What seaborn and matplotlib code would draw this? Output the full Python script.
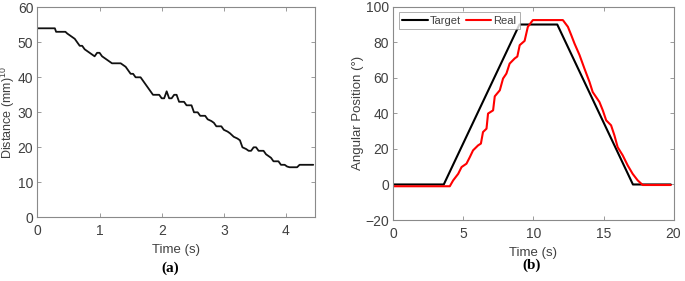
import numpy as np
import pandas as pd
import matplotlib
matplotlib.use("Agg")
import matplotlib.pyplot as plt
import seaborn as sns

# --- panel (a): distance vs time ---
dist_time = [0.00, 0.28, 0.30, 0.45, 0.48, 0.52, 0.56, 0.60, 0.64, 0.68, 0.72, 0.76,
             0.80, 0.84, 0.88, 0.92, 0.96, 1.00, 1.04, 1.08, 1.12, 1.16, 1.20, 1.34,
             1.38, 1.42, 1.46, 1.50, 1.54, 1.58, 1.66, 1.70, 1.74, 1.78, 1.82, 1.86,
             1.96, 2.00, 2.04, 2.08, 2.12, 2.16, 2.20, 2.24, 2.28, 2.36, 2.40, 2.48,
             2.52, 2.58, 2.62, 2.70, 2.74, 2.80, 2.84, 2.88, 2.96, 3.00, 3.06, 3.10,
             3.16, 3.22, 3.26, 3.30, 3.36, 3.40, 3.44, 3.48, 3.52, 3.56, 3.64, 3.68,
             3.72, 3.76, 3.80, 3.88, 3.92, 3.98, 4.02, 4.06, 4.18, 4.22, 4.44]
dist_mm = [54, 54, 53, 53, 52.5, 52, 51.5, 51, 50, 49, 49, 48,
           47.5, 47, 46.5, 46, 47, 47, 46, 45.5, 45, 44.5, 44, 44,
           43.5, 43, 42, 41, 41, 40, 40, 39, 38, 37, 36, 35,
           35, 34, 34, 36, 34, 34, 35, 35, 33, 33, 32, 32,
           30, 30, 29, 29, 28, 27.5, 27, 26, 26, 25, 24.5, 24,
           23, 22.5, 22, 20, 19.5, 19, 19, 20, 20, 19, 19, 18,
           17.5, 17, 16, 16, 15, 15, 14.5, 14.3, 14.3, 15, 15]

# --- panel (b): angular position ---
target_time = [0.0, 3.6, 9.0, 11.7, 17.1, 19.8]
target_deg = [0, 0, 90, 90, 0, 0]

real_time = [0.0, 3.7, 4.03, 4.27, 4.63, 4.87, 5.22, 5.46, 5.69, 6.05, 6.25, 6.40,
             6.65, 6.76, 7.12, 7.24, 7.60, 7.83, 8.07, 8.30, 8.66, 8.85, 9.02, 9.37,
             9.60, 9.96, 12.10, 12.46, 12.70, 12.93, 13.29, 13.64, 14.00, 14.23,
             14.71, 14.95, 15.19, 15.54, 15.78, 16.01, 16.37, 16.73, 17.08, 17.44,
             17.80, 19.80]
real_deg = [-1, -1, -1, 2.3, 6, 9.8, 11.7, 15.4, 19.2, 22, 23, 29.5,
            31.4, 39.9, 41.7, 49.6, 53, 59.6, 62.4, 68, 70.9, 72, 78.4, 80.8,
            88.7, 92.5, 92.5, 88.7, 84, 79.3, 72.8, 65.2, 57.7, 52,
            46.4, 41.7, 36.1, 33.3, 27.6, 21, 16.4, 10.7, 6, 2.3,
            -0.3, -0.3]

sns.set_theme(style="white")
plt.rcParams['font.family'] = ['Liberation Sans', 'DejaVu Sans']
plt.rcParams['mathtext.fontset'] = 'custom'
plt.rcParams['mathtext.rm'] = 'Liberation Sans'

fig = plt.figure(figsize=(6.85, 2.81), dpi=100)
ax_a = fig.add_axes([0.0547, 0.2267, 0.4053, 0.7473])
ax_b = fig.add_axes([0.5742, 0.2170, 0.4091, 0.7590])

grey = '#404040'

def style_axes(ax):
    for s in ax.spines.values():
        s.set_color('#8a8a8a')
        s.set_linewidth(0.8)
    ax.tick_params(direction='in', length=3, width=0.6, color='#8a8a8a',
                   labelsize=10, labelcolor=grey, top=True, right=True,
                   left=True, bottom=True)
    ax.tick_params(axis='x', pad=5)
    ax.tick_params(axis='y', pad=3)

# (a)
df_a = pd.DataFrame({'time': dist_time, 'dist': dist_mm})
sns.lineplot(data=df_a, x='time', y='dist', ax=ax_a, color='#111111',
             linewidth=1.3, estimator=None)
ax_a.set_xlim(0, 4.47)
ax_a.set_ylim(0, 60)
ax_a.set_xticks([0, 1, 2, 3, 4])
ax_a.set_yticks([0, 10, 20, 30, 40, 50, 60])
ax_a.set_xlabel('Time (s)', fontsize=9.5, color=grey, labelpad=4)
ax_a.set_ylabel('Distance (mm)$^{10}$', fontsize=9, color=grey)
ax_a.yaxis.set_label_coords(-0.072, 0.5)
style_axes(ax_a)

# (b)
df_t = pd.DataFrame({'time': target_time, 'deg': target_deg})
df_r = pd.DataFrame({'time': real_time, 'deg': real_deg})
sns.lineplot(data=df_t, x='time', y='deg', ax=ax_b, color='black',
             linewidth=1.5, estimator=None, label='Target')
sns.lineplot(data=df_r, x='time', y='deg', ax=ax_b, color='#ff0000',
             linewidth=1.5, estimator=None, label='Real')
ax_b.set_xlim(0, 20)
ax_b.set_ylim(-20, 100)
ax_b.set_xticks([0, 5, 10, 15, 20])
ax_b.set_yticks([-20, 0, 20, 40, 60, 80, 100])
ax_b.set_xlabel('Time (s)', fontsize=9.5, color=grey, labelpad=4)
ax_b.set_ylabel('Angular Position (°)', fontsize=9.5, color=grey)
ax_b.yaxis.set_label_coords(-0.104, 0.5)
style_axes(ax_b)
leg = ax_b.legend(loc='upper left', ncol=2, fontsize=8, frameon=True,
                  fancybox=False, handlelength=2.3, handletextpad=0.2,
                  columnspacing=0.4, borderpad=0.3, borderaxespad=0.5)
leg.get_frame().set_edgecolor('#8a8a8a')
leg.get_frame().set_linewidth(0.6)
for t in leg.get_texts():
    t.set_color(grey)

fig.text(0.249, 0.045, '(a)', family=['Liberation Serif', 'DejaVu Serif'],
         fontweight='bold', fontsize=11, ha='center', va='center', color='black')
fig.text(0.776, 0.057, '(b)', family=['Liberation Serif', 'DejaVu Serif'],
         fontweight='bold', fontsize=11, ha='center', va='center', color='black')

fig.savefig('out.png', dpi=100)
